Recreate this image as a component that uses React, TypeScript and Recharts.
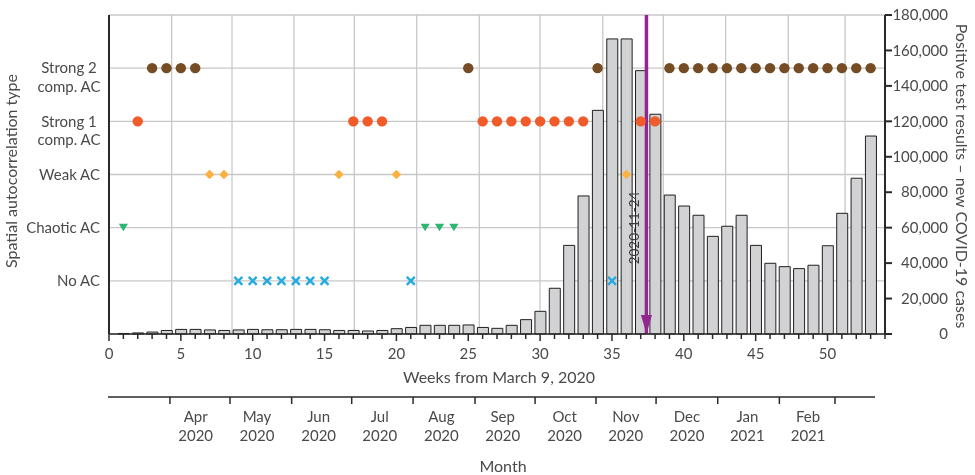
import React from "react";
import { ComposedChart, Bar, Scatter, XAxis, YAxis, CartesianGrid, ReferenceLine } from "recharts";

// weekly positive test results
const weeks = [
  1, 2, 3, 4, 5, 6, 7, 8, 9, 10, 11, 12, 13, 14, 15, 16, 17, 18, 19, 20, 21, 22, 23, 24, 25, 26, 27,
  28, 29, 30, 31, 32, 33, 34, 35, 36, 37, 38, 39, 40, 41, 42, 43, 44, 45, 46, 47, 48, 49, 50, 51, 52, 53,
];
const positiveCases = [
  300, 600, 1100, 2000, 2600, 2600, 2300, 2000, 2300, 2600, 2400, 2400, 2600, 2600, 2400, 2000, 2000,
  1700, 2000, 3000, 3700, 4900, 4900, 4900, 5100, 3700, 3200, 4900, 8100, 12800, 25800, 50000, 77900,
  126200, 166500, 166500, 148600, 124000, 78400, 72200, 67000, 55100, 60800, 67000, 50000, 39900, 38000,
  36900, 38800, 49800, 68100, 87900, 111700,
];

// autocorrelation type per week
const strong2Weeks = [3, 4, 5, 6, 25, 34, 39, 40, 41, 42, 43, 44, 45, 46, 47, 48, 49, 50, 51, 52, 53];
const strong1Weeks = [2, 17, 18, 19, 26, 27, 28, 29, 30, 31, 32, 33, 37, 38];
const weakWeeks = [7, 8, 16, 20, 36];
const chaoticWeeks = [1, 22, 23, 24];
const noAcWeeks = [9, 10, 11, 12, 13, 14, 15, 21, 35];

const levels = [1, 2, 3, 4, 5];
const levelLabels = ["No AC", "Chaotic AC", "Weak AC", "Strong 1\ncomp. AC", "Strong 2\ncomp. AC"];

const weekTicks = [
  0, 1, 2, 3, 4, 5, 6, 7, 8, 9, 10, 11, 12, 13, 14, 15, 16, 17, 18, 19, 20, 21, 22, 23, 24, 25, 26, 27,
  28, 29, 30, 31, 32, 33, 34, 35, 36, 37, 38, 39, 40, 41, 42, 43, 44, 45, 46, 47, 48, 49, 50, 51, 52, 53, 54,
];
const caseTicks = [0, 20000, 40000, 60000, 80000, 100000, 120000, 140000, 160000, 180000];
const gridWeeks = [4.36, 8.56, 12.87, 17.07, 21.41, 25.77, 29.99, 34.36, 38.57, 42.91, 47.27, 51.22];

// month axis, positions in weeks
const monthStarts = [4.24, 8.42, 12.71, 16.89, 21.16, 25.47, 29.65, 33.89, 38.07, 42.36, 46.65, 50.52];
const monthLabelWeeks = [6.03, 10.3, 14.59, 18.84, 23.13, 27.4, 31.71, 35.96, 40.22, 44.42, 48.65];
const monthNames = ["Apr", "May", "Jun", "Jul", "Aug", "Sep", "Oct", "Nov", "Dec", "Jan", "Feb"];
const monthYears = ["2020", "2020", "2020", "2020", "2020", "2020", "2020", "2020", "2020", "2021", "2021"];

const markerWeek = 37.4;
const markerLabel = "2020-11-24";

const FONT = "Lato, 'Open Sans', sans-serif";
const TEXT = "#4a4a4a";
const AXIS = "#2a2a2a";

const barData = weeks.map((w, i) => ({ week: w, cases: positiveCases[i] }));
const toPoints = (list: number[], level: number) => list.map((w) => ({ week: w, level }));
const monthTicks = [...monthStarts, ...monthLabelWeeks].sort((a, b) => a - b);

const WeekTick = ({ x, y, payload }: any) => {
  const v = payload.value;
  const major = v % 5 === 0;
  return (
    <g>
      <line x1={x} x2={x} y1={y} y2={y + (major ? 7 : 5)} stroke={AXIS} strokeWidth={1.5} />
      {major && (
        <text x={x} y={y + 25} textAnchor="middle" fill={TEXT} fontSize={15} fontFamily={FONT}>
          {v}
        </text>
      )}
    </g>
  );
};

const MonthTick = ({ x, y, payload }: any) => {
  const v = payload.value;
  if (monthStarts.includes(v)) {
    return <line x1={x} x2={x} y1={y} y2={y + 7} stroke={AXIS} strokeWidth={1.5} />;
  }
  const j = monthLabelWeeks.indexOf(v);
  return (
    <text textAnchor="middle" fill={TEXT} fontSize={15} fontFamily={FONT}>
      <tspan x={x} y={y + 25}>{monthNames[j]}</tspan>
      <tspan x={x} y={y + 44}>{monthYears[j]}</tspan>
    </text>
  );
};

const CasesTick = ({ x, y, payload }: any) => (
  <text x={x + 54} y={y} dy="0.35em" textAnchor="end" fill={TEXT} fontSize={15} fontFamily={FONT}>
    {payload.value.toLocaleString("en-US")}
  </text>
);

const LevelTick = ({ x, y, payload }: any) => {
  const label = levelLabels[levels.indexOf(payload.value)];
  if (!label) return null;
  const lines = label.split("\n");
  if (lines.length === 1) {
    return (
      <text x={x - 1} y={y} dy="0.35em" textAnchor="end" fill={TEXT} fontSize={15} fontFamily={FONT}>
        {label}
      </text>
    );
  }
  return (
    <text textAnchor="middle" fill={TEXT} fontSize={15} fontFamily={FONT}>
      {lines.map((l, i) => (
        <tspan key={i} x={x - 32} y={y + i * 18.5} dy="0.35em">
          {l}
        </tspan>
      ))}
    </text>
  );
};

const AxisTitle = ({ viewBox, text, offX, offY, turn, lineTrim }: any) => {
  const cx = viewBox.x + offX;
  const cy = viewBox.y + offY;
  return (
    <g>
      {/* month axis line stops a little short of the plot edge */}
      {lineTrim != null && (
        <line
          x1={viewBox.x - 1}
          x2={viewBox.x + viewBox.width - lineTrim}
          y1={viewBox.y}
          y2={viewBox.y}
          stroke={AXIS}
          strokeWidth={1.5}
        />
      )}
      <text
        x={cx}
        y={cy}
        dy="0.35em"
        textAnchor="middle"
        fill={TEXT}
        fontSize={16}
        fontFamily={FONT}
        transform={turn ? `rotate(${turn}, ${cx}, ${cy})` : undefined}
      >
        {text}
      </text>
    </g>
  );
};

const MarkerLabel = ({ viewBox }: any) => {
  const x = viewBox.x;
  const bottom = viewBox.y + viewBox.height;
  return (
    <g>
      <polygon points={`${x - 5.5},${bottom - 19} ${x + 5.5},${bottom - 19} ${x},${bottom}`} fill="#92278f" />
      <text
        x={x - 12}
        y={228}
        dy="0.35em"
        textAnchor="middle"
        fill="#3a3a3a"
        fontSize={13.5}
        fontFamily={FONT}
        transform={`rotate(-90, ${x - 12}, 228)`}
      >
        {markerLabel}
      </text>
    </g>
  );
};

const dot = (color: string) => (p: any) => <circle cx={p.cx} cy={p.cy} r={5.2} fill={color} />;
const diamond = (p: any) => (
  <polygon
    points={`${p.cx},${p.cy - 4.8} ${p.cx + 4.8},${p.cy} ${p.cx},${p.cy + 4.8} ${p.cx - 4.8},${p.cy}`}
    fill="#fbb040"
  />
);
const triangleDown = (p: any) => (
  <polygon
    points={`${p.cx - 4.6},${p.cy - 3.8} ${p.cx + 4.6},${p.cy - 3.8} ${p.cx},${p.cy + 3.6}`}
    fill="#2bb673"
  />
);
const xMark = (p: any) => (
  <g stroke="#27aae1" strokeWidth={2.4}>
    <line x1={p.cx - 4} y1={p.cy - 4} x2={p.cx + 4} y2={p.cy + 4} />
    <line x1={p.cx - 4} y1={p.cy + 4} x2={p.cx + 4} y2={p.cy - 4} />
  </g>
);

export default function App() {
  return (
    <div style={{ position: "fixed", left: 0, top: 0 }}>
      <ComposedChart
        width={975}
        height={475}
        data={barData}
        margin={{ top: 15, right: 0, bottom: 0, left: 0 }}
        style={{ fontFamily: FONT }}
      >
        <CartesianGrid
          xAxisId="a"
          yAxisId="cat"
          verticalValues={gridWeeks}
          stroke="#c8c8c8"
          strokeWidth={1.3}
        />
        <XAxis
          xAxisId="b"
          dataKey="week"
          type="number"
          domain={[0, 54]}
          allowDataOverflow
          ticks={monthTicks}
          interval={0}
          tickSize={0}
          tickMargin={0}
          tickLine={false}
          axisLine={false}
          tick={<MonthTick />}
          height={78}
          label={<AxisTitle text="Month" offX={394} offY={69} lineTrim={10} />}
        />
        <XAxis
          xAxisId="a"
          dataKey="week"
          type="number"
          domain={[0, 54]}
          allowDataOverflow
          ticks={weekTicks}
          interval={0}
          tickSize={0}
          tickMargin={0}
          tickLine={false}
          tick={<WeekTick />}
          height={63}
          stroke={AXIS}
          strokeWidth={1.5}
          label={<AxisTitle text="Weeks from March 9, 2020" offX={390} offY={43} />}
        />
        <YAxis
          yAxisId="cat"
          dataKey="level"
          type="number"
          domain={[0, 6]}
          ticks={levels}
          interval={0}
          width={109}
          tickLine={false}
          tick={<LevelTick />}
          stroke={AXIS}
          strokeWidth={2}
          label={<AxisTitle text="Spatial autocorrelation type" offX={11} offY={156} turn={-90} />}
        />
        <YAxis
          yAxisId="cases"
          orientation="right"
          type="number"
          domain={[0, 180000]}
          ticks={caseTicks}
          interval={0}
          width={90}
          tickSize={7}
          tick={<CasesTick />}
          stroke={AXIS}
          strokeWidth={2}
          label={
            <AxisTitle text="Positive test results – new COVID-19 cases" offX={77} offY={161} turn={90} />
          }
        />
        <Bar
          xAxisId="a"
          yAxisId="cases"
          dataKey="cases"
          barSize={11}
          fill="#d1d2d4"
          stroke="#231f20"
          strokeWidth={1}
          isAnimationActive={false}
        />
        <Scatter xAxisId="a" yAxisId="cat" data={toPoints(strong2Weeks, 5)} dataKey="level" shape={dot("#754c24")} isAnimationActive={false} />
        <Scatter xAxisId="a" yAxisId="cat" data={toPoints(strong1Weeks, 4)} dataKey="level" shape={dot("#f15a29")} isAnimationActive={false} />
        <Scatter xAxisId="a" yAxisId="cat" data={toPoints(weakWeeks, 3)} dataKey="level" shape={diamond} isAnimationActive={false} />
        <Scatter xAxisId="a" yAxisId="cat" data={toPoints(chaoticWeeks, 2)} dataKey="level" shape={triangleDown} isAnimationActive={false} />
        <Scatter xAxisId="a" yAxisId="cat" data={toPoints(noAcWeeks, 1)} dataKey="level" shape={xMark} isAnimationActive={false} />
        <ReferenceLine
          xAxisId="a"
          yAxisId="cat"
          x={markerWeek}
          stroke="#92278f"
          strokeWidth={3.5}
          label={<MarkerLabel />}
        />
      </ComposedChart>
    </div>
  );
}
